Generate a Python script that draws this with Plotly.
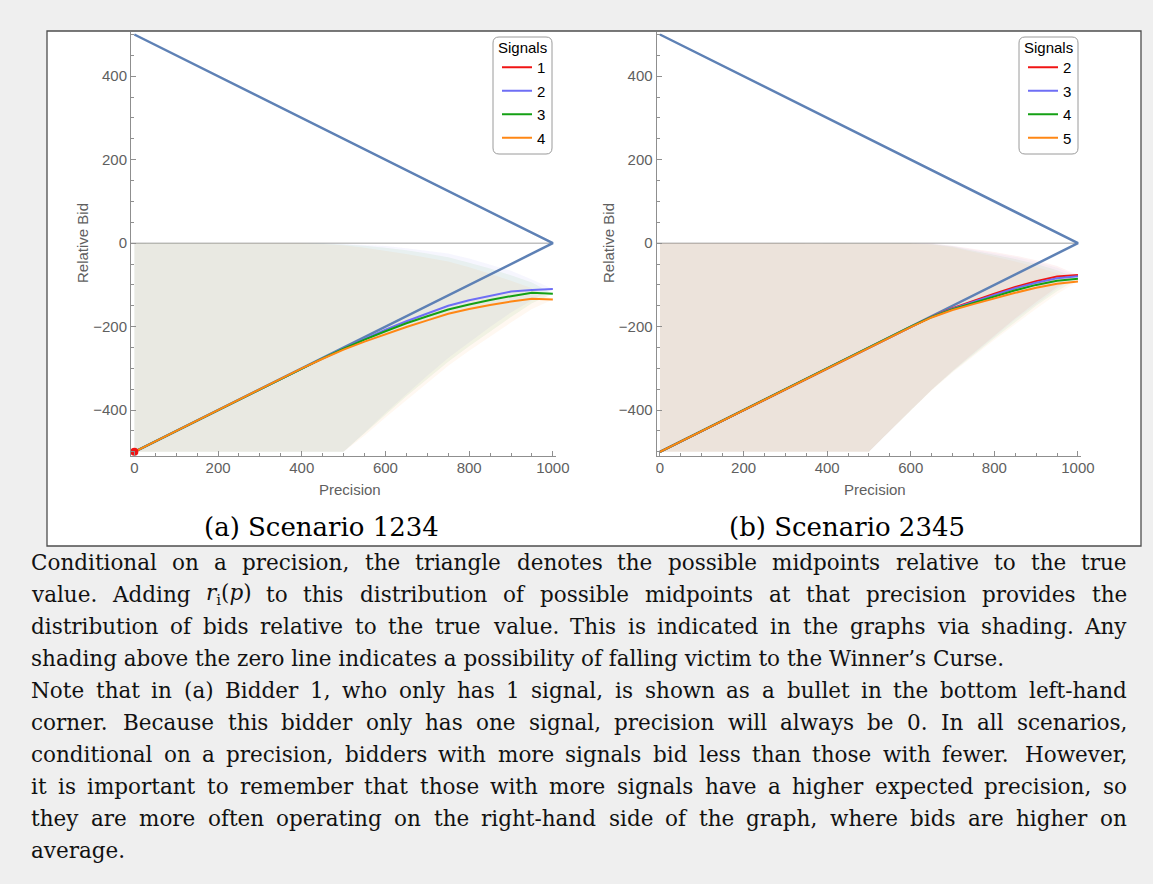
import plotly.graph_objects as go

W, H = 1153, 884

# ---------------- data ----------------
precision = [0, 50, 100, 150, 200, 250, 300, 350, 400, 450, 500,
             550, 600, 650, 700, 750, 800, 850, 900, 950, 1000]

triangle_p = [0, 1000, 0]
triangle_r = [500, 0, -500]

# Scenario 1234
left_signals = ["1", "2", "3", "4"]
left_red_p = [0]
left_red_r = [-500]
left_blue = [-500, -475, -450, -425, -400, -375, -350, -325, -300, -276, -252,
             -229, -207, -187, -168, -150, -137, -126, -116, -112, -110]
left_green = [-500, -475, -450, -425, -400, -375, -350, -325, -300, -276, -253,
              -231, -211, -192, -175, -159, -147, -136, -127, -119, -121]
left_orange = [-500, -475, -450, -425, -400, -375, -350, -325, -300, -277, -255,
               -236, -218, -201, -185, -169, -158, -148, -140, -133, -135]

# Scenario 2345
right_signals = ["2", "3", "4", "5"]
right_red = [-500, -475, -450, -425, -400, -375, -350, -325, -300, -275, -250,
             -225, -200, -176, -156, -138, -121, -105, -91, -80, -76]
right_blue = [-500, -475, -450, -425, -400, -375, -350, -325, -300, -275, -250,
              -225, -200, -176, -157, -140, -124, -108, -95, -84, -79]
right_green = [-500, -475, -450, -425, -400, -375, -350, -325, -300, -275, -250,
               -225, -200, -177, -158, -143, -128, -113, -100, -90, -85]
right_orange = [-500, -475, -450, -425, -400, -375, -350, -325, -300, -275, -250,
                -225, -201, -178, -160, -146, -132, -119, -107, -97, -92]

captions = ["(a) Scenario 1234", "(b) Scenario 2345"]
x_title = "Precision"
y_title = "Relative Bid"
legend_title = "Signals"

paragraph = [
    "Conditional on a precision, the triangle denotes the possible midpoints relative to the true",
    "value. Adding r_i(p) to this distribution of possible midpoints at that precision provides the",
    "distribution of bids relative to the true value. This is indicated in the graphs via shading. Any",
    "shading above the zero line indicates a possibility of falling victim to the Winner\u2019s Curse.",
    "Note that in (a) Bidder 1, who only has 1 signal, is shown as a bullet in the bottom left-hand",
    "corner. Because this bidder only has one signal, precision will always be 0. In all scenarios,",
    "conditional on a precision, bidders with more signals bid less than those with fewer. However,",
    "it is important to remember that those with more signals have a higher expected precision, so",
    "they are more often operating on the right-hand side of the graph, where bids are higher on",
    "average.",
]
justified = [True, True, True, False, True, True, True, True, True, False]

# ---------------- styling ----------------
COL = {"red": (240, 20, 20), "blue": (110, 110, 245), "green": (20, 160, 20),
       "orange": (255, 135, 20)}
TRI_COL = "#5e81b5"
AX_COL = "#8f8f8f"
SANS = "Liberation Sans, Arial, sans-serif"
SERIF = "DejaVu Serif, serif"


def rgb(c, a=None):
    return f"rgba({c[0]},{c[1]},{c[2]},{a})" if a is not None else f"rgb({c[0]},{c[1]},{c[2]})"


fig = go.Figure()


def add_panel(xa, ya, series, legend_name, alpha, red_point=None):
    # shading: distribution of bids (midpoint spread around the bid function)
    half = [500 - p / 2 for p in precision]
    for name, vals, col in series:
        if vals is None:
            continue
        upper = [v + h for v, h in zip(vals, half)]
        lower = [max(v - h, -500) for v, h in zip(vals, half)]
        fig.add_trace(go.Scatter(
            x=precision + precision[::-1], y=upper + lower[::-1],
            fill="toself", fillcolor=rgb(col, alpha), line=dict(width=0),
            mode="lines", hoverinfo="skip", showlegend=False, xaxis=xa, yaxis=ya))
    # triangle of possible midpoints
    fig.add_trace(go.Scatter(x=triangle_p, y=triangle_r, mode="lines",
                             line=dict(color=TRI_COL, width=2.5), showlegend=False,
                             hoverinfo="skip", xaxis=xa, yaxis=ya))
    # bid lines
    for name, vals, col in series:
        xs, ys = (red_point if vals is None else (precision, vals))
        fig.add_trace(go.Scatter(x=xs, y=ys, mode="lines",
                                 line=dict(color=rgb(col), width=2), name=name,
                                 legend=legend_name, legendgroup=legend_name + name,
                                 xaxis=xa, yaxis=ya))
    if red_point is not None:
        fig.add_trace(go.Scatter(x=red_point[0], y=red_point[1], mode="markers",
                                 marker=dict(color=rgb(COL["red"]), size=8),
                                 showlegend=False, cliponaxis=False, xaxis=xa, yaxis=ya))


add_panel("x", "y",
          [(left_signals[0], None, COL["red"]),
           (left_signals[1], left_blue, COL["blue"]),
           (left_signals[2], left_green, COL["green"]),
           (left_signals[3], left_orange, COL["orange"])],
          "legend", 0.06, red_point=(left_red_p, left_red_r))
add_panel("x2", "y2",
          [(right_signals[0], right_red, COL["red"]),
           (right_signals[1], right_blue, COL["blue"]),
           (right_signals[2], right_green, COL["green"]),
           (right_signals[3], right_orange, COL["orange"])],
          "legend2", 0.05)

# ---------------- axes ----------------
X_RANGE = [-8, 1008]
Y_RANGE = [-510, 506]
Y_TOP, Y_BOT = 32, 456
panels_px = [(131, 556.2), (656.6, 1081.3)]

tickfont = dict(family=SANS, size=15, color="#5f5f5f")
common_ax = dict(showgrid=False, zeroline=False, showline=True,
                 linecolor=AX_COL, linewidth=1, ticks="inside", ticklen=5, tickcolor=AX_COL,
                 tickmode="linear", tick0=0, dtick=200,
                 minor=dict(ticks="inside", ticklen=3, tickcolor=AX_COL, dtick=50, tick0=0),
                 tickfont=tickfont, fixedrange=True, automargin=False)
xax = dict(common_ax, range=X_RANGE, ticklabelstandoff=-2)
yax = dict(common_ax, range=Y_RANGE)

ydom = [(H - Y_BOT) / H, (H - Y_TOP) / H]
fig.update_layout(
    xaxis=dict(xax, domain=[panels_px[0][0] / W, panels_px[0][1] / W], anchor="y"),
    yaxis=dict(yax, domain=ydom, anchor="x"),
    xaxis2=dict(xax, domain=[panels_px[1][0] / W, panels_px[1][1] / W], anchor="y2"),
    yaxis2=dict(yax, domain=ydom, anchor="x2"),
)

# ---------------- legends (rounded frame + title drawn separately) ----------------
legend_boxes = [(493, 552), (1019, 1078)]
LB_TOP, LB_BOT, RAD = 37, 154, 6


def rounded_rect(x0, y0, x1, y1, r):
    def X(v):
        return v / W

    def Y(v):
        return 1 - v / H
    rx, ry = r / W, r / H
    return (f"M {X(x0) + rx},{Y(y0)} L {X(x1) - rx},{Y(y0)} "
            f"Q {X(x1)},{Y(y0)} {X(x1)},{Y(y0) - ry} L {X(x1)},{Y(y1) + ry} "
            f"Q {X(x1)},{Y(y1)} {X(x1) - rx},{Y(y1)} L {X(x0) + rx},{Y(y1)} "
            f"Q {X(x0)},{Y(y1)} {X(x0)},{Y(y1) + ry} L {X(x0)},{Y(y0) - ry} "
            f"Q {X(x0)},{Y(y0)} {X(x0) + rx},{Y(y0)} Z")


legend_common = dict(
    xanchor="right", yanchor="top", y=(H - 51) / H,
    borderwidth=0, bgcolor="rgba(0,0,0,0)",
    font=dict(family=SANS, size=15, color="black"), tracegroupgap=1, itemwidth=30,
)

shapes = [
    dict(type="rect", xref="paper", yref="paper", x0=47 / W, x1=1141 / W,
         y0=1 - 546 / H, y1=1 - 31 / H, fillcolor="white",
         line=dict(color="#4d4d4d", width=1.3), layer="below"),
    dict(type="line", xref="x", yref="y", x0=-8, x1=1000, y0=0, y1=0,
         line=dict(color="#a0a0a0", width=1), layer="below"),
    dict(type="line", xref="x2", yref="y2", x0=-8, x1=1000, y0=0, y1=0,
         line=dict(color="#a0a0a0", width=1), layer="below"),
]
for bx0, bx1 in legend_boxes:
    shapes.append(dict(type="path", xref="paper", yref="paper",
                       path=rounded_rect(bx0, LB_TOP, bx1, LB_BOT, RAD),
                       fillcolor="white", line=dict(color="#9a9a9a", width=1), layer="above"))

fig.update_layout(
    width=W, height=H, autosize=False, margin=dict(l=0, r=0, t=0, b=0, autoexpand=False),
    paper_bgcolor="#efefef", plot_bgcolor="rgba(0,0,0,0)",
    legend=dict(legend_common, x=551 / W),
    legend2=dict(legend_common, x=1077 / W),
    shapes=shapes,
)

ann = []
for bx0, bx1 in legend_boxes:
    ann.append(dict(text=legend_title, x=(bx0 + bx1) / 2 / W, y=1 - 47 / H, xref="paper",
                    yref="paper", showarrow=False, xanchor="center", yanchor="middle",
                    font=dict(family=SANS, size=15, color="black")))
# axis titles
for (x0, x1), ycx in zip(panels_px, [82, 608]):
    ann.append(dict(text=x_title, x=((x0 + x1) / 2 + 6) / W, y=1 - 489 / H, xref="paper",
                    yref="paper", showarrow=False, xanchor="center", yanchor="middle",
                    font=dict(family=SANS, size=15, color="#5f5f5f")))
    ann.append(dict(text=y_title, x=ycx / W, y=1 - 243 / H, xref="paper", yref="paper",
                    showarrow=False, textangle=-90, xanchor="center", yanchor="middle",
                    font=dict(family=SANS, size=15, color="#5f5f5f")))
# captions
for cap, cx in zip(captions, [321, 847]):
    ann.append(dict(text=cap, x=cx / W, y=1 - 527 / H, xref="paper", yref="paper",
                    showarrow=False, xanchor="center", yanchor="middle",
                    font=dict(family=SERIF, size=26, color="black")))

# paragraph, justified word by word (approximate DejaVu Serif advance widths, em/1000)
DW = dict(zip("abcdefghijklmnopqrstuvwxyz",
              [596, 640, 560, 640, 592, 370, 640, 644, 320, 310, 606, 320, 948, 644, 602,
               640, 640, 478, 513, 402, 644, 565, 856, 564, 565, 523]))
DW.update(dict(zip("ABCDEFGHIJKLMNOPQRSTUVWXYZ",
                   [722, 735, 765, 802, 730, 694, 799, 872, 395, 401, 747, 664, 1024, 875,
                    820, 673, 820, 753, 685, 667, 843, 722, 1028, 712, 660, 695])))
DW.update({" ": 318, ",": 318, ".": 318, "(": 390, ")": 390, "-": 338, "\u2019": 318})
for d in "0123456789":
    DW[d] = 636

FS = 21.5
L_X, R_X = 31, 1127
Y0, DY = 562, 32.1
SPECIAL = {"r_i(p)": ("<i>r</i><sub>i</sub>(<i>p</i>)", 2050)}


def word_w(w):
    if w in SPECIAL:
        return SPECIAL[w][1] * FS / 1000
    return sum(DW.get(c, 600) for c in w) * FS / 1000


def add_word(txt, x, yc, anchor):
    ann.append(dict(text=txt, x=x / W, y=1 - yc / H, xref="paper", yref="paper",
                    showarrow=False, xanchor=anchor, yanchor="middle",
                    borderpad=0, borderwidth=0,
                    font=dict(family=SERIF, size=FS, color="#111111")))


for k, (line, just) in enumerate(zip(paragraph, justified)):
    yc = Y0 + k * DY
    if not just:
        add_word(line, L_X, yc, "left")
        continue
    words = line.split(" ")
    widths = [word_w(w) for w in words]
    gap = (R_X - L_X - sum(widths)) / (len(words) - 1)
    x = L_X
    for i, (w, ww) in enumerate(zip(words, widths)):
        txt = SPECIAL[w][0] if w in SPECIAL else w
        if i == len(words) - 1:
            add_word(txt, R_X, yc, "right")
        else:
            add_word(txt, x, yc, "left")
        x += ww + gap

fig.update_layout(annotations=ann)

fig.write_html("out.html", config={"responsive": False})
